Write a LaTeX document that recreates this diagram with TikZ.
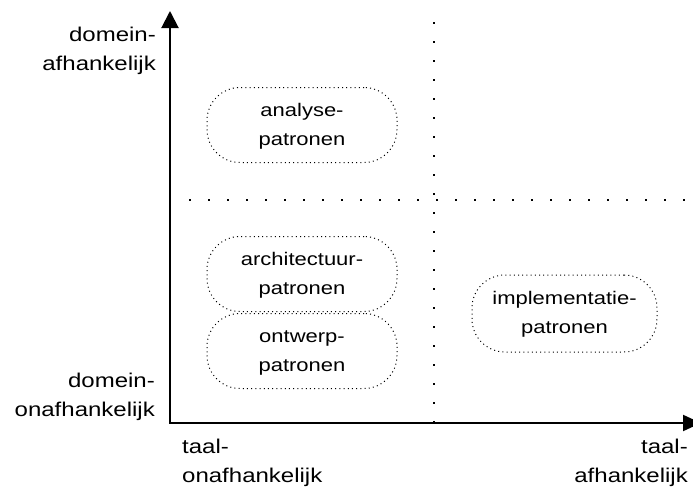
\documentclass[tikz,border=0pt]{standalone}
\usepackage{fontspec}
\setmainfont{Liberation Sans}
\usepackage{graphicx}
\usetikzlibrary{arrows.meta}
\newcommand\mylbl[2]{\scalebox{1}[0.83]{\begin{tabular}{@{}#1@{}}#2\end{tabular}}}
\begin{document}
\begin{tikzpicture}[x=1pt,y=-1pt,
  blob/.style={draw, line width=1pt, dash pattern=on 1pt off 3.2pt, rounded corners=33pt,
    minimum width=190pt, minimum height=75pt, inner sep=0pt, font=\fontsize{22}{35}\selectfont},
  gridline/.style={line width=1.8pt, dash pattern=on 1.8pt off 17.2pt},
  axisline/.style={line width=2pt, line join=miter,
    {Triangle[width=17pt,length=17pt]}-{Triangle[width=16pt,length=18pt]}},
  axlbl/.style={inner sep=0pt, font=\fontsize{24}{35}\selectfont},
]
\useasboundingbox (0,0) rectangle (693,490);

% dotted quadrant lines
\coordinate (vtop) at (434,22);
\coordinate (vbot) at (434,423);
\coordinate (hleft) at (189,200);
\coordinate (hright) at (693,200);
\draw[gridline] (vtop) -- (vbot);
\draw[gridline] (hleft) -- (hright);

% axes
\coordinate (O) at (170,423);
\coordinate (ytop) at (170,11);
\coordinate (xend) at (701,423);
\draw[axisline] (ytop) -- (O) -- (xend);

% pattern groups
\node[blob] (ana) at (302,125) {\mylbl{c}{analyse-\\patronen}};
\node[blob] (arch) at (302,274) {\mylbl{c}{architectuur-\\patronen}};
\node[blob] (ontw) at (302,351) {\mylbl{c}{ontwerp-\\patronen}};
\node[blob, minimum width=185pt, minimum height=77pt] (impl) at (564.5,313.5) {\mylbl{c}{implementatie-\\patronen}};

% axis labels
\node[axlbl, anchor=east] (dtop) at (156,50) {\mylbl{r}{domein-\\afhankelijk}};
\node[axlbl, anchor=east] (dbot) at (155,396) {\mylbl{r}{domein-\\onafhankelijk}};
\node[axlbl, anchor=west] (tleft) at (182,462) {\mylbl{l}{taal-\\onafhankelijk}};
\node[axlbl, anchor=east] (tright) at (688,462) {\mylbl{r}{taal-\\afhankelijk}};
\end{tikzpicture}
\end{document}
